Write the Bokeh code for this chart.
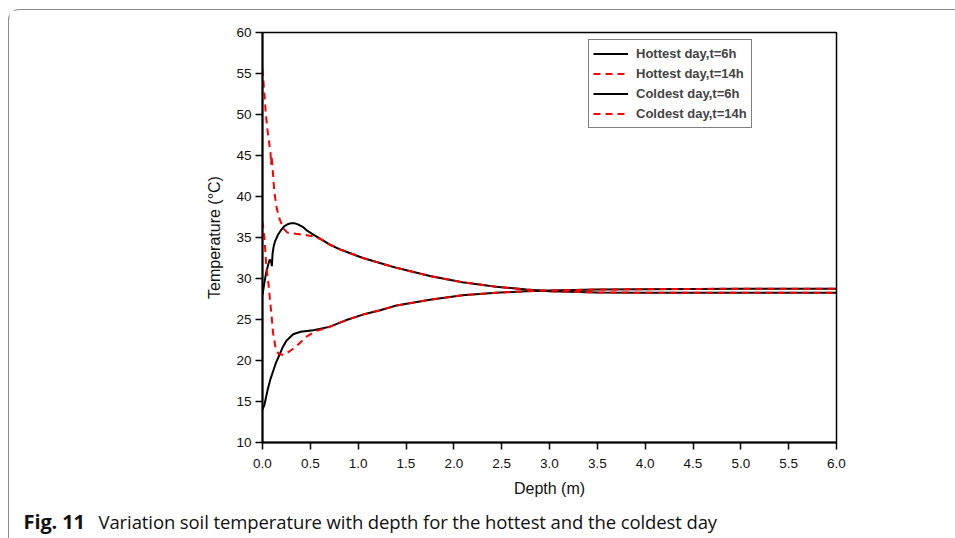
from bokeh.plotting import figure
from bokeh.models import Range1d, FixedTicker, Legend, LegendItem, Div
from bokeh.layouts import column
from bokeh.embed import file_html
from bokeh.resources import INLINE

# ---- data ----
hot6_depth = [0, 0.02, 0.04, 0.06, 0.075, 0.09, 0.098, 0.105, 0.115, 0.13, 0.16, 0.2, 0.23, 0.27, 0.3, 0.33,
              0.37, 0.42, 0.47, 0.54, 0.61, 0.7, 0.82, 0.96, 1.05, 1.28, 1.4, 1.75, 2.09, 2.44, 2.76, 3.0,
              3.5, 4.0, 5.0, 6.0]
hot6_temp = [28.0, 29.5, 30.8, 31.7, 32.3, 32.1, 31.5, 33.0, 33.8, 34.5, 35.3, 36.0, 36.4, 36.65, 36.75, 36.75,
             36.6, 36.3, 35.8, 35.3, 34.8, 34.15, 33.5, 32.9, 32.5, 31.7, 31.3, 30.3, 29.55, 29.0, 28.65, 28.45,
             28.3, 28.27, 28.25, 28.25]

hot14_depth = [0, 0.01, 0.02, 0.035, 0.05, 0.07, 0.085, 0.09, 0.095, 0.105, 0.125, 0.15, 0.18, 0.22, 0.26,
               0.35, 0.45, 0.52, 0.6, 0.7, 0.82, 0.96, 1.05, 1.28, 1.4, 1.75, 2.09, 2.44, 2.76, 3.0,
               3.5, 4.0, 5.0, 6.0]
hot14_temp = [55.6, 54.0, 52.5, 50.0, 48.3, 46.5, 45.2, 43.9, 45.0, 43.5, 40.4, 38.5, 37.2, 36.1, 35.6,
              35.45, 35.3, 35.15, 34.85, 34.15, 33.5, 32.9, 32.5, 31.7, 31.3, 30.3, 29.55, 29.0, 28.65, 28.45,
              28.3, 28.27, 28.25, 28.25]

cold6_depth = [0, 0.02, 0.055, 0.08, 0.108, 0.14, 0.178, 0.21, 0.25, 0.32, 0.4, 0.53, 0.7, 0.87, 1.05, 1.22,
               1.4, 1.75, 2.09, 2.44, 2.76, 3.0, 3.5, 4.0, 5.0, 6.0]
cold6_temp = [14.0, 14.6, 16.5, 17.6, 18.6, 19.7, 20.7, 21.6, 22.4, 23.2, 23.5, 23.7, 24.1, 24.9, 25.6, 26.1,
              26.7, 27.4, 27.96, 28.25, 28.45, 28.55, 28.65, 28.7, 28.75, 28.75]

cold14_depth = [0, 0.02, 0.04, 0.063, 0.08, 0.095, 0.11, 0.14, 0.17, 0.21, 0.28, 0.35, 0.46, 0.56, 0.65, 0.7,
                0.87, 1.05, 1.22, 1.4, 1.75, 2.09, 2.44, 2.76, 3.0, 3.5, 4.0, 5.0, 6.0]
cold14_temp = [37.0, 35.0, 31.5, 29.3, 27.2, 25.5, 23.4, 21.3, 20.8, 20.7, 21.1, 21.7, 22.9, 23.6, 23.9, 24.1,
               24.9, 25.6, 26.1, 26.7, 27.4, 27.96, 28.25, 28.45, 28.55, 28.65, 28.7, 28.75, 28.75]

series_names = ["Hottest day,t=6h", "Hottest day,t=14h", "Coldest day,t=6h", "Coldest day,t=14h"]

x_ticks = [0, 0.5, 1, 1.5, 2, 2.5, 3, 3.5, 4, 4.5, 5, 5.5, 6]
x_tick_labels = ["0.0", "0.5", "1.0", "1.5", "2.0", "2.5", "3.0", "3.5", "4.0", "4.5", "5.0", "5.5", "6.0"]
y_ticks = [10, 15, 20, 25, 30, 35, 40, 45, 50, 55, 60]

caption_bold = "Fig. 11"
caption_text = "Variation soil temperature with depth for the hottest and the coldest day"

# ---- main figure ----
p = figure(frame_width=574, frame_height=410,
           x_range=Range1d(0, 6), y_range=Range1d(10, 60),
           output_backend="svg", toolbar_location=None,
           min_border_left=253, min_border_right=118, min_border_top=22, min_border_bottom=62,
           background_fill_color="white", border_fill_color="white")
p.grid.visible = False
p.outline_line_color = "black"
p.outline_line_width = 1.5

AX_FONT = "Liberation Sans"
for ax in (p.xaxis[0], p.yaxis[0]):
    ax.axis_line_width = 2
    ax.axis_line_color = "black"
    ax.major_tick_line_width = 1.5
    ax.major_tick_line_color = "black"
    ax.major_tick_in = 0
    ax.major_tick_out = 7
    ax.minor_tick_line_color = None
    ax.major_label_text_font = AX_FONT
    ax.major_label_text_font_size = "13.5px"
    ax.major_label_text_color = "#111111"
    ax.axis_label_text_font = AX_FONT
    ax.axis_label_text_font_size = "16px"
    ax.axis_label_text_font_style = "normal"
    ax.axis_label_text_color = "#111111"

p.xaxis.ticker = FixedTicker(ticks=x_ticks)
p.xaxis.major_label_overrides = {t: l for t, l in zip(x_ticks, x_tick_labels)}
p.xaxis.axis_label = "Depth (m)"
p.xaxis.major_label_standoff = 9
p.xaxis.axis_label_standoff = 9

p.yaxis.ticker = FixedTicker(ticks=y_ticks)
p.yaxis.axis_label = "Temperature (°C)"
p.yaxis.major_label_standoff = 4
p.yaxis.axis_label_standoff = 10

r1 = p.line(hot6_depth, hot6_temp, line_color="black", line_width=2)
r2 = p.line(hot14_depth, hot14_temp, line_color="#ff0000", line_width=2, line_dash="7 5")
r3 = p.line(cold6_depth, cold6_temp, line_color="black", line_width=2)
r4 = p.line(cold14_depth, cold14_temp, line_color="#ff0000", line_width=2, line_dash="7 5")

legend = Legend(items=[LegendItem(label=n, renderers=[r]) for n, r in zip(series_names, [r1, r2, r3, r4])],
                location=(326, 314))
legend.label_text_font = AX_FONT
legend.label_text_font_style = "bold"
legend.label_text_font_size = "13px"
legend.glyph_width = 35
legend.glyph_height = 19
legend.label_height = 19
legend.label_standoff = 8
legend.spacing = 1
legend.padding = 4
legend.margin = 0
legend.border_line_color = "black"
legend.border_line_width = 1
legend.background_fill_alpha = 1
p.add_layout(legend, "center")

# ---- caption ----
cap = Div(text=(f'<span style="display:inline-block;width:75px;font-weight:bold;font-size:20px">{caption_bold}</span>'
                f'<span>{caption_text}</span>'),
          width=945, height=33,
          styles={"font-family": "'Open Sans'", "font-size": "18.5px", "line-height": "25px",
                  "color": "#111111", "padding-left": "9.5px", "white-space": "nowrap",
                  "letter-spacing": "-0.1px"})

layout = column(p, cap, spacing=0,
                styles={"border-top": "1.5px solid #8a8a8a", "border-left": "1.5px solid #8a8a8a",
                        "border-top-left-radius": "11px", "margin-left": "8px", "margin-top": "9px"})

open("out.html", "w").write(file_html(layout, INLINE))
